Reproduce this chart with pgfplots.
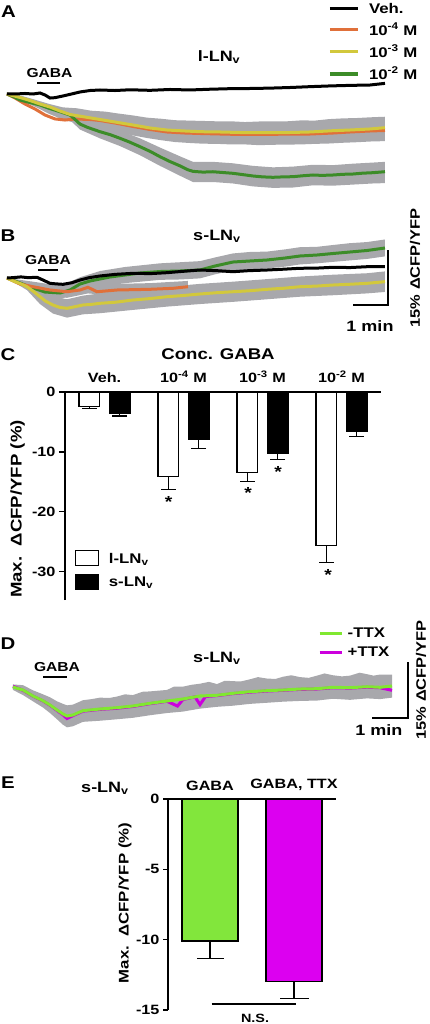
\documentclass[border=0pt]{standalone}
\usepackage{pgfplots}
\pgfplotsset{compat=1.18}
\usepackage{fontspec}
\setmainfont{Liberation Sans}[FakeStretch=1.2]
\definecolor{bandgray}{HTML}{A8A8AC}
\definecolor{cOrange}{HTML}{E0703A}
\definecolor{cYellow}{HTML}{D2C83C}
\definecolor{cGreen}{HTML}{3C8C28}
\definecolor{cLime}{HTML}{80E830}
\definecolor{cMag}{HTML}{CC00DD}
\definecolor{barLime}{HTML}{82E63C}
\definecolor{barMag}{HTML}{DC00F0}
\newcommand{\fs}[1]{\fontsize{#1}{#1}\selectfont\bfseries}
\newcommand{\LN}[1]{#1-LN\textsubscript{v}}
\begin{document}
\begin{tikzpicture}
\useasboundingbox (0pt,0pt) rectangle (430pt,-1024pt);
% ---------------- Panel A ----------------
\begin{axis}[at={(0pt,-190pt)}, anchor=south west, scale only axis, width=400pt, height=130pt,
  xmin=-0.2, xmax=11.229, ymin=-26.18, ymax=9.272, axis lines=none, clip=false,
  legend style={at={(rel axis cs:0.82,1.452)}, anchor=north west, draw=none, fill=none, font=\fs{14},
    inner sep=0pt, row sep=5.5pt, column sep=8pt, nodes={inner sep=1.5pt}},
  legend cell align=left,
  legend image code/.code={\draw[#1] (0pt,0pt) -- (28pt,0pt);}]
\addlegendimage{black, line width=3.3pt}\addlegendentry{Veh.}
\addlegendimage{cOrange, line width=3.3pt}\addlegendentry{10\textsuperscript{-4} M}
\addlegendimage{cYellow, line width=3.3pt}\addlegendentry{10\textsuperscript{-3} M}
\addlegendimage{cGreen, line width=3.3pt}\addlegendentry{10\textsuperscript{-2} M}
\addplot[fill=bandgray, draw=none, forget plot] coordinates {
(0,0)(0.4,-0.45)(0.8,-1.55)(1.2,-2.7)(1.6,-3.65)(2.0,-3.9)(2.4,-4.55)(2.8,-4.8)(3.2,-5.35)(3.6,-5.85)(4.0,-6.45)(4.4,-6.75)(4.8,-7.15)(5.2,-7.25)(5.6,-7.35)(6.0,-7.45)(6.4,-7.45)(6.8,-7.65)(7.2,-7.5)(7.6,-7.45)(8.0,-7.45)(8.4,-7.2)(8.8,-7.25)(9.2,-6.85)(9.6,-6.65)(10.0,-6.55)(10.4,-6.35)(10.8,-6.2)
(10.8,-12.85)(10.4,-12.95)(10.0,-13.15)(9.6,-13.3)(9.2,-13.5)(8.8,-13.6)(8.4,-13.75)(8.0,-13.8)(7.6,-13.85)(7.2,-13.95)(6.8,-13.75)(6.4,-13.75)(6.0,-13.6)(5.6,-13.55)(5.2,-13.35)(4.8,-13.1)(4.4,-12.6)(4.0,-12.0)(3.6,-11.3)(3.2,-10.5)(2.8,-9.75)(2.4,-8.85)(2.0,-8.0)(1.6,-7.0)(1.2,-5.4)(0.8,-3.45)(0.4,-1.55)};
\addplot[fill=bandgray, draw=none, forget plot] coordinates {
(0,0)(0.4,-1.1)(0.943,-2.2)(1.514,-3.7)(1.8,-4.4)(2.086,-6.7)(2.657,-8.5)(3.229,-10.0)(3.8,-12.1)(4.371,-14.6)(4.943,-17.0)(5.314,-18.5)(5.886,-18.5)(6.457,-18.9)(7.029,-19.6)(7.6,-20.0)(8.171,-19.8)(8.743,-19.3)(9.314,-19.4)(9.886,-19.0)(10.457,-18.7)(10.8,-18.5)
(10.8,-24.3)(10.457,-24.4)(9.886,-24.7)(9.314,-25.0)(8.743,-24.9)(8.171,-25.5)(7.6,-25.6)(7.029,-25.2)(6.457,-24.4)(5.886,-24.0)(5.314,-24.0)(4.943,-22.3)(4.371,-19.6)(3.8,-16.7)(3.229,-14.2)(2.657,-12.1)(2.086,-9.7)(1.8,-7.1)(1.514,-5.9)(0.943,-3.8)(0.4,-2.1)};
\addplot[cOrange, line width=3pt, forget plot] coordinates {
(0,0)(0.229,-1.09)(0.514,-2.73)(0.8,-4.09)(1.086,-5.73)(1.371,-6.8)(1.657,-7.1)(1.943,-6.82)(2.371,-6.95)(2.657,-7.23)(3.086,-7.91)(3.6,-8.86)(4.086,-9.68)(4.571,-10.36)(5.086,-10.64)(5.514,-10.77)(6.086,-10.91)(6.657,-11.04)(7.429,-11.04)(8.086,-10.91)(8.657,-10.91)(9.314,-10.64)(9.8,-10.36)(10.371,-10.09)(10.8,-9.95)};
\addplot[cGreen, line width=3pt, forget plot] coordinates {
(0,0)(0.2,-0.8)(0.371,-1.64)(0.6,-2.2)(0.943,-3.0)(1.2,-3.9)(1.514,-4.83)(1.8,-5.73)(1.95,-7.0)(2.086,-8.2)(2.3,-9.1)(2.657,-10.28)(2.95,-11.1)(3.229,-12.08)(3.5,-13.1)(3.8,-14.37)(4.1,-15.7)(4.371,-17.1)(4.65,-18.4)(4.943,-19.6)(5.15,-20.6)(5.314,-21.1)(5.6,-21.3)(5.886,-21.2)(6.15,-21.4)(6.457,-21.63)(6.75,-22.0)(7.029,-22.36)(7.3,-22.6)(7.6,-22.72)(7.9,-22.6)(8.171,-22.55)(8.45,-22.3)(8.743,-22.09)(9.0,-22.2)(9.314,-22.09)(9.6,-21.9)(9.886,-21.82)(10.15,-21.6)(10.457,-21.46)(10.8,-21.19)};
\addplot[cYellow, line width=3pt, forget plot] coordinates {
(0,0)(0.371,-0.95)(0.657,-1.77)(0.943,-2.73)(1.229,-3.55)(1.514,-4.64)(1.8,-5.59)(2.229,-6.27)(2.657,-6.95)(3.086,-7.64)(3.6,-8.45)(4.086,-9.27)(4.571,-9.82)(5.086,-10.09)(5.514,-10.28)(6.086,-10.36)(6.657,-10.5)(7.429,-10.55)(8.086,-10.5)(8.657,-10.36)(9.314,-10.01)(9.8,-9.82)(10.371,-9.54)(10.8,-9.19)};
\addplot[black, line width=3pt, forget plot] coordinates {
(0,0)(0.229,0)(0.514,0.14)(0.743,0)(0.943,0.27)(1.086,-0.27)(1.229,-1.1)(1.371,-1.0)(1.571,-0.6)(1.8,-0.1)(2.086,0.55)(2.371,0.95)(2.657,1.09)(3.086,0.95)(3.514,1.15)(4.086,1.0)(4.657,1.23)(5.229,1.1)(5.8,1.3)(6.371,1.45)(6.943,1.5)(7.514,1.6)(8.086,1.77)(8.657,2.0)(9.229,2.2)(9.8,2.35)(10.371,2.45)(10.8,2.9)};
\end{axis}
% ---------------- Panel B ----------------
\begin{axis}[at={(0pt,-320pt)}, anchor=south west, scale only axis, width=400pt, height=120pt,
  xmin=-0.2, xmax=11.229, ymin=-11.45, ymax=21.27, axis lines=none, clip=false]
\addplot[fill=bandgray, draw=none] coordinates {
(0,0)(0.571,-1.4)(0.943,-3.1)(1.314,-5.0)(1.714,-5.8)(2.171,-4.8)(2.657,-4.2)(3.6,-3.4)(4.571,-2.4)(5.514,-1.6)(6.457,-1.0)(7.429,-0.3)(8.371,0.4)(9.314,0.9)(10.286,1.3)(10.8,1.8)
(10.8,-3.8)(10.286,-4.2)(9.314,-4.7)(8.371,-5.1)(7.429,-5.8)(6.457,-6.5)(5.514,-7.1)(4.571,-7.8)(3.6,-8.7)(2.657,-9.6)(2.171,-9.9)(1.714,-10.8)(1.314,-9.7)(0.943,-7.1)(0.571,-3.3)};
\addplot[fill=bandgray, draw=none] coordinates {
(0,0)(0.657,-1.5)(1.086,-2.4)(1.514,-2.3)(2.086,0.2)(2.657,1.9)(3.371,3.0)(4.371,4.0)(4.943,4.3)(5.514,4.6)(5.943,5.6)(6.457,6.7)(6.943,7.1)(7.429,7.2)(7.943,7.8)(8.371,8.4)(8.857,8.5)(9.314,9.0)(9.8,9.5)(10.286,9.8)(10.8,10.5)
(10.8,5.9)(10.286,5.2)(9.8,4.8)(9.314,4.4)(8.857,4.0)(8.371,3.7)(7.943,3.1)(7.429,2.6)(6.943,2.3)(6.457,2.1)(5.943,1.0)(5.514,-0.1)(4.943,-0.4)(4.371,-0.5)(3.371,-1.4)(2.657,-2.4)(2.086,-3.4)(1.514,-5.9)(1.086,-5.2)(0.657,-3.4)};
\addplot[fill=bandgray, draw=none] coordinates {
(0,0)(0.743,-1.0)(1.229,-1.7)(1.714,-2.1)(2.314,-0.9)(3.143,-1.6)(4.086,-1.4)(5.171,-0.8)
(5.171,-3.9)(4.086,-4.7)(3.143,-4.9)(2.314,-4.2)(1.714,-5.4)(1.229,-4.9)(0.743,-3.8)};
\addplot[cGreen, line width=3pt] coordinates {
(0,0)(0.371,-1.36)(0.657,-2.45)(1.086,-3.82)(1.514,-4.09)(1.8,-3.27)(2.086,-1.64)(2.371,-0.82)(2.657,-0.27)(2.943,0.27)(3.371,0.82)(3.8,1.36)(4.371,1.77)(4.943,1.91)(5.514,2.18)(5.943,3.27)(6.457,4.36)(6.943,4.64)(7.429,4.91)(7.943,5.45)(8.371,6.0)(8.857,6.27)(9.314,6.68)(9.8,7.09)(10.286,7.5)(10.8,8.18)};
\addplot[cOrange, line width=3pt] coordinates {
(0,0)(0.371,-1.64)(0.743,-2.37)(1.229,-3.27)(1.714,-3.74)(2.086,-3.27)(2.314,-2.54)(2.571,-3.74)(3.143,-3.27)(4.086,-3.08)(4.743,-2.81)(5.171,-2.37)};
\addplot[cYellow, line width=3pt] coordinates {
(0,0)(0.2,-0.9)(0.4,-1.6)(0.571,-2.37)(0.75,-3.6)(0.943,-5.1)(1.1,-6.3)(1.314,-7.36)(1.5,-8.0)(1.714,-8.26)(1.9,-7.9)(2.171,-7.36)(2.4,-7.2)(2.657,-6.9)(3.1,-6.6)(3.6,-6.0)(4.1,-5.6)(4.571,-5.1)(5.0,-4.8)(5.514,-4.36)(6.0,-4.0)(6.457,-3.74)(6.9,-3.5)(7.429,-3.08)(7.9,-2.8)(8.371,-2.37)(8.85,-2.2)(9.314,-1.91)(9.8,-1.7)(10.286,-1.45)(10.8,-1.0)};
\addplot[black, line width=3pt] coordinates {
(0,0)(0.171,0.1)(0.4,0.3)(0.6,0.1)(0.857,0.19)(1.029,-0.55)(1.229,-1.45)(1.4,-1.6)(1.6,-1.72)(1.85,-1.3)(2.086,-0.55)(2.35,0.1)(2.657,0.55)(3.1,1.0)(3.6,1.28)(4.1,1.2)(4.571,1.45)(5.0,1.8)(5.514,2.18)(6.0,2.0)(6.457,1.72)(6.9,2.0)(7.429,2.18)(7.9,2.4)(8.371,2.65)(8.85,2.7)(9.314,2.92)(9.8,2.85)(10.286,3.08)(10.8,3.1)};
\end{axis}
% ---------------- Panel C ----------------
\begin{axis}[at={(65pt,-392pt)}, anchor=north west, scale only axis, width=316pt, height=208pt,
  xmin=-0.5, xmax=3.5, ymin=-34.7, ymax=0, clip=false,
  axis x line=top, axis y line=left,
  x axis line style={-, line width=1.2pt}, y axis line style={-, line width=1.2pt},
  xtick={0,1,2,3}, xticklabels={Veh., 10\textsuperscript{-4} M, 10\textsuperscript{-3} M, 10\textsuperscript{-2} M},
  xtick style={draw=none}, xticklabel style={font=\fs{13.5}},
  ytick={-30,-20,-10,0}, yticklabels={-30,-20,-10,0}, yticklabel style={font=\fs{13.5}},
  ytick style={line width=1.2pt, black}, tick align=outside, major tick length=6pt,
  ylabel={Max.\ \ ΔCFP/YFP (\%)}, ylabel style={font=\fs{15.5}, at={(axis description cs:-0.150,0.4375)}, anchor=center},
  legend style={at={(rel axis cs:0.03,0.24)}, anchor=north west, draw=none, fill=none, font=\fs{14},
    inner sep=0pt, row sep=7pt, column sep=8pt, nodes={inner sep=2pt}},
  legend cell align=left,
  legend image code/.code={\draw[#1, line width=1.2pt] (0pt,-7pt) rectangle (23pt,8pt);}]
\addplot[ybar, bar width=20.7pt, bar shift=0pt, fill=white, draw=black, line width=1.2pt,
  error bars/.cd, y dir=minus, y explicit, error bar style={line width=1.2pt, black},
  error mark options={rotate=90, mark size=7.3pt, line width=1.2pt, black}]
  coordinates {(-0.193,-2.4) -= (0,0.4) (0.807,-14.1) -= (0,2.1) (1.807,-13.4) -= (0,1.5) (2.807,-25.6) -= (0,2.8)};
\addlegendentry{\LN{l}}
\addplot[ybar, bar width=20.7pt, bar shift=0pt, fill=black, draw=black, line width=1.2pt,
  error bars/.cd, y dir=minus, y explicit, error bar style={line width=1.2pt, black},
  error mark options={rotate=90, mark size=7.3pt, line width=1.2pt, black}]
  coordinates {(0.193,-3.6) -= (0,0.4) (1.193,-7.9) -= (0,1.5) (2.193,-10.2) -= (0,1.1) (3.193,-6.5) -= (0,0.9)};
\addlegendentry{\LN{s}}
\node[font=\fs{16}] at (axis cs:0.813,-18.3) {*};
\node[font=\fs{16}] at (axis cs:1.817,-16.8) {*};
\node[font=\fs{16}] at (axis cs:2.197,-13.4) {*};
\node[font=\fs{16}] at (axis cs:2.83,-30.5) {*};
\end{axis}
% ---------------- Panel D ----------------
\begin{axis}[at={(0pt,-730pt)}, anchor=south west, scale only axis, width=400pt, height=90pt,
  xmin=-0.371, xmax=11.057, ymin=-11.73, ymax=12.82, axis lines=none, clip=false,
  legend style={at={(rel axis cs:0.795,1.155)}, anchor=north west, draw=none, fill=none, font=\fs{14},
    inner sep=0pt, row sep=5pt, column sep=3pt, nodes={inner sep=1.5pt}},
  legend cell align=left,
  legend image code/.code={\draw[#1] (0pt,0pt) -- (22pt,0pt);}]
\addlegendimage{cLime, line width=3pt}\addlegendentry{-TTX}
\addlegendimage{cMag, line width=3pt}\addlegendentry{+TTX}
\addplot[fill=bandgray, draw=none, forget plot] coordinates {
(0,0.7)(0.286,0.5)(0.571,-0.9)(0.857,-2.0)(1.057,-2.8)(1.257,-3.9)(1.429,-4.6)(1.543,-5.0)(1.714,-4.8)(2.0,-3.6)(2.25,-3.3)(2.486,-2.9)(2.75,-3.0)(2.971,-2.6)(3.2,-2.0)(3.429,-2.2)(3.7,-1.3)(3.914,-1.2)(4.15,-1.0)(4.4,-0.8)(4.6,0.1)(4.857,0.1)(5.1,0.6)(5.343,0.9)(5.6,1.4)(5.829,0.8)(6.05,1.7)(6.286,1.6)(6.5,1.5)(6.771,2.1)(7.0,2.7)(7.257,2.3)(7.5,2.2)(7.714,2.8)(7.95,3.2)(8.2,2.7)(8.45,2.5)(8.686,3.1)(8.9,3.7)(9.143,3.2)(9.4,2.9)(9.629,3.1)(9.9,3.9)(10.114,3.5)(10.3,3.1)(10.486,3.4)(10.829,3.4)
(10.829,-2.9)(10.486,-3.3)(10.114,-3.1)(9.629,-3.5)(9.143,-3.2)(8.686,-3.7)(8.2,-3.8)(7.714,-4.0)(7.257,-4.3)(6.771,-4.6)(6.286,-5.1)(5.829,-5.4)(5.343,-5.9)(4.857,-6.7)(4.4,-7.1)(3.914,-7.7)(3.429,-8.4)(2.971,-8.8)(2.486,-9.2)(2.0,-9.5)(1.714,-10.7)(1.543,-11.0)(1.429,-10.3)(1.257,-8.8)(1.057,-7.1)(0.857,-5.6)(0.571,-3.9)(0.286,-2.2)(0,-0.8)};
\addplot[cMag, line width=3pt, forget plot] coordinates {
(0,0.2)(0.286,-0.9)(0.571,-2.5)(0.857,-3.8)(1.057,-5.0)(1.257,-6.4)(1.429,-7.6)(1.543,-8.6)(1.714,-7.8)(2.0,-6.6)(2.486,-6.1)(2.971,-5.8)(3.429,-5.3)(3.914,-4.55)(4.4,-3.9)(4.7,-5.2)(4.857,-3.4)(5.2,-2.7)(5.343,-4.8)(5.5,-2.6)(5.829,-2.35)(6.286,-1.8)(6.771,-1.4)(7.257,-1.1)(7.714,-0.9)(8.2,-0.65)(8.686,-0.55)(9.143,-0.2)(9.629,-0.3)(10.114,-0.05)(10.486,-0.2)(10.829,-0.9)};
\addplot[cLime, line width=3pt, forget plot] coordinates {
(0,0)(0.286,-0.82)(0.571,-2.45)(0.857,-3.74)(1.057,-4.91)(1.257,-6.27)(1.429,-7.36)(1.543,-7.91)(1.714,-7.64)(2.0,-6.46)(2.486,-6.0)(2.971,-5.64)(3.429,-5.18)(3.914,-4.45)(4.4,-3.82)(4.857,-3.27)(5.343,-2.45)(5.829,-2.26)(6.286,-1.72)(6.771,-1.28)(7.257,-1.01)(7.714,-0.82)(8.2,-0.55)(8.686,-0.46)(9.143,-0.08)(9.629,-0.19)(10.114,0.08)(10.486,-0.08)(10.829,0.27)};
\end{axis}
% ---------------- Panel E ----------------
\begin{axis}[at={(168pt,-799pt)}, anchor=north west, scale only axis, width=168pt, height=211pt,
  xmin=-0.5, xmax=1.5, ymin=-15, ymax=0, clip=false,
  axis x line=top, axis y line=left,
  x axis line style={-, line width=1.2pt}, y axis line style={-, line width=1.2pt},
  xtick={0,1}, xticklabels={GABA, {GABA, TTX}},
  xtick style={draw=none}, xticklabel style={font=\fs{13.5}},
  ytick={-15,-10,-5,0}, yticklabels={-15,-10,-5,0}, yticklabel style={font=\fs{13.5}},
  ytick style={line width=1.2pt, black}, tick align=outside, major tick length=5pt,
  ylabel={Max.\ \ ΔCFP/YFP (\%)}, ylabel style={font=\fs{14}, at={(axis description cs:-0.256,0.507)}, anchor=center}]
\addplot[ybar, bar width=56pt, bar shift=0pt, fill=barLime, draw=black, line width=1.2pt,
  error bars/.cd, y dir=minus, y explicit, error bar style={line width=1.2pt, black},
  error mark options={rotate=90, mark size=13.5pt, line width=1.2pt, black}]
  coordinates {(0,-10.1) -= (0,1.25)};
\addplot[ybar, bar width=56pt, bar shift=0pt, fill=barMag, draw=black, line width=1.2pt,
  error bars/.cd, y dir=minus, y explicit, error bar style={line width=1.2pt, black},
  error mark options={rotate=90, mark size=14.5pt, line width=1.2pt, black}]
  coordinates {(1,-12.95) -= (0,1.25)};
\draw[line width=1.2pt] (axis cs:0.02,-14.57) -- (axis cs:1.02,-14.57);
\node[font=\fs{12}] at (axis cs:0.536,-15.6) {N.S.};
\end{axis}
% ---------------- Annotations ----------------
\node[font=\fs{17}] at (8.5pt,-11.5pt) {A};
\node[font=\fs{13}] at (49.5pt,-73pt) {GABA};
\draw[line width=1.5pt] (37pt,-83pt) -- (60pt,-83pt);
\node[font=\fs{15}] at (219pt,-57pt) {\LN{l}};
\node[font=\fs{17}] at (8pt,-236pt) {B};
\node[font=\fs{15}] at (217pt,-236pt) {\LN{s}};
\node[font=\fs{13}] at (48pt,-260pt) {GABA};
\draw[line width=1.5pt] (38pt,-270pt) -- (58pt,-270pt);
\draw[line width=1.2pt] (353pt,-305pt) -- (388pt,-305pt) -- (388pt,-250pt);
\node[font=\fs{15}] at (370pt,-326pt) {1 min};
\node[font=\fs{13.7}, rotate=90] at (415pt,-268pt) {15\% ΔCFP/YFP};
\node[font=\fs{17}] at (8pt,-355pt) {C};
\node[font=\fs{15.5}] at (218pt,-354pt) {Conc. GABA};
\node[font=\fs{17}] at (8pt,-644pt) {D};
\node[font=\fs{15}] at (217pt,-658pt) {\LN{s}};
\node[font=\fs{13}] at (57pt,-667pt) {GABA};
\draw[line width=1.5pt] (43pt,-677pt) -- (67pt,-677pt);
\draw[line width=1.2pt] (372pt,-718pt) -- (408pt,-718pt) -- (408pt,-662pt);
\node[font=\fs{15}] at (379pt,-730pt) {1 min};
\node[font=\fs{13.7}, rotate=90] at (421pt,-680pt) {15\% ΔCFP/YFP};
\node[font=\fs{17}] at (8pt,-783pt) {E};
\node[font=\fs{15}] at (105pt,-788pt) {\LN{s}};
\end{tikzpicture}
\end{document}
